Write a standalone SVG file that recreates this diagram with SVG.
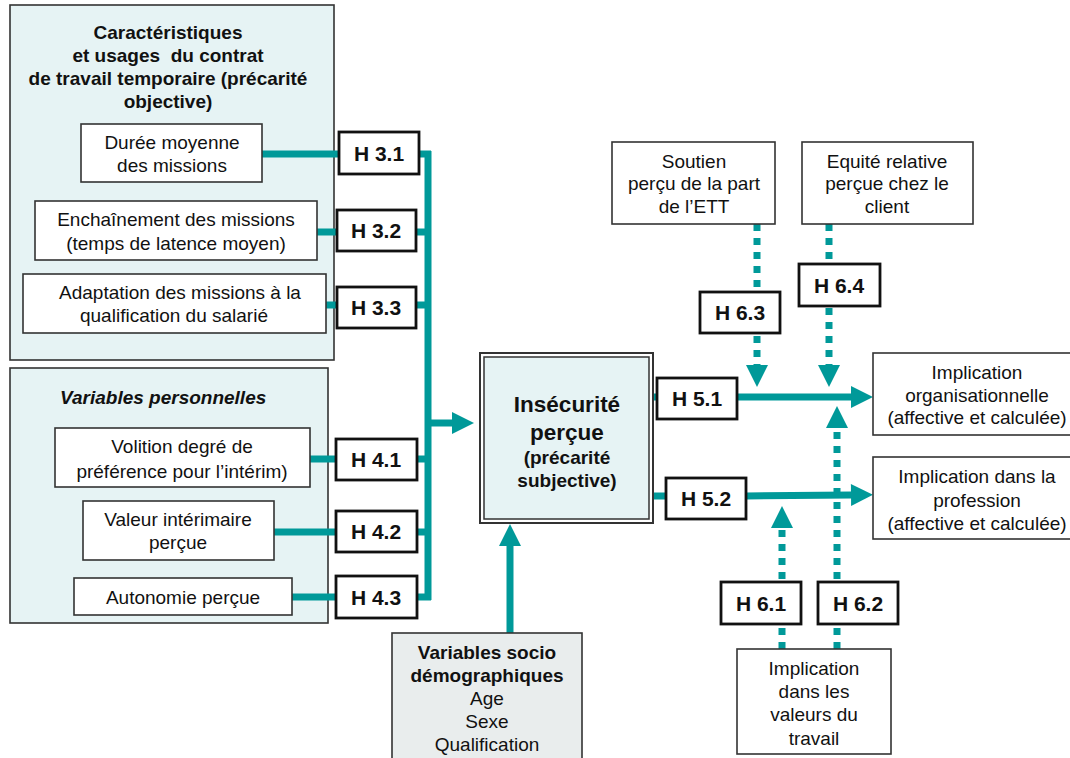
<svg xmlns="http://www.w3.org/2000/svg" width="1070" height="758" viewBox="0 0 1070 758">
<style>
text{font-family:"Liberation Sans",Arial,sans-serif;fill:#111;text-anchor:middle}
.t{font-size:19px}
.b{font-size:19px;font-weight:bold}
.h{font-size:21px;font-weight:bold}
.big{font-size:22.5px;font-weight:bold}
.grp{fill:#e6f3f4;stroke:#333;stroke-width:1.6}
.box{fill:#fff;stroke:#333;stroke-width:1.6}
.hb{fill:#fff;stroke:#111;stroke-width:2.8}
.ln{stroke:#009999;stroke-width:7;fill:none}
.dl{stroke:#009999;stroke-width:7;fill:none;stroke-dasharray:7 7}
</style>
<defs>
<marker id="ah" markerUnits="userSpaceOnUse" markerWidth="23" markerHeight="22" refX="0" refY="11" orient="auto" overflow="visible">
<path d="M0,0 L22,11 L0,22 z" fill="#009999"/>
</marker>
</defs>

<g id="grp-caracteristiques">
<rect class="grp" x="10" y="5" width="324" height="355"/>
<text class="b" x="168" y="39">Caractéristiques</text>
<text class="b" x="168" y="62" xml:space="preserve">et usages  du contrat</text>
<text class="b" x="168" y="85">de travail temporaire (précarité</text>
<text class="b" x="168" y="108">objective)</text>
</g>
<g id="grp-personnelles">
<rect class="grp" x="10" y="368" width="318" height="255"/>
<text class="b" x="60" y="404" style="text-anchor:start;font-style:italic">Variables personnelles</text>
</g>

<g id="connectors">
<line class="ln" x1="262" y1="154" x2="339" y2="154"/>
<line class="ln" x1="317" y1="232" x2="337" y2="232"/>
<line class="ln" x1="326" y1="305" x2="337" y2="305"/>
<line class="ln" x1="310" y1="459" x2="336" y2="459"/>
<line class="ln" x1="274" y1="532" x2="336" y2="532"/>
<line class="ln" x1="292" y1="597" x2="336" y2="597"/>
<line class="ln" x1="419" y1="154" x2="431" y2="154"/>
<line class="ln" x1="416" y1="232" x2="428" y2="232"/>
<line class="ln" x1="416" y1="305" x2="428" y2="305"/>
<line class="ln" x1="417" y1="459" x2="428" y2="459"/>
<line class="ln" x1="417" y1="532" x2="428" y2="532"/>
<line class="ln" x1="417" y1="597" x2="431" y2="597"/>
<line class="ln" x1="428" y1="151" x2="428" y2="600"/>
<line class="ln" x1="428" y1="423" x2="452" y2="423" marker-end="url(#ah)"/>
<line class="ln" x1="510" y1="633" x2="510" y2="546" marker-end="url(#ah)"/>
<line class="ln" x1="653" y1="397" x2="657" y2="397"/>
<line class="ln" x1="737" y1="397" x2="851" y2="397" marker-end="url(#ah)"/>
<line class="ln" x1="653" y1="496" x2="666" y2="496"/>
<line class="ln" x1="746" y1="496" x2="851" y2="495" marker-end="url(#ah)"/>
<line class="dl" x1="757" y1="224" x2="757" y2="365" marker-end="url(#ah)"/>
<line class="dl" x1="829" y1="224" x2="829" y2="365" marker-end="url(#ah)"/>
<line class="dl" x1="782" y1="649" x2="782" y2="528" marker-end="url(#ah)"/>
<line class="dl" x1="837" y1="649" x2="837" y2="428" marker-end="url(#ah)"/>
</g>

<g id="n-duree">
<rect class="box" x="81" y="124" width="181" height="58"/>
<text class="t" x="172" y="149">Durée moyenne</text>
<text class="t" x="172" y="172">des missions</text>
</g>
<g id="n-enchainement">
<rect class="box" x="35" y="201" width="282" height="59"/>
<text class="t" x="176" y="226">Enchaînement des missions</text>
<text class="t" x="176" y="250">(temps de latence moyen)</text>
</g>
<g id="n-adaptation">
<rect class="box" x="23" y="274" width="303" height="59"/>
<text class="t" x="180" y="299">Adaptation des missions à la</text>
<text class="t" x="174" y="322">qualification du salarié</text>
</g>
<g id="n-volition">
<rect class="box" x="55" y="428" width="255" height="59"/>
<text class="t" x="182" y="453">Volition degré de</text>
<text class="t" x="182" y="478">préférence pour l’intérim)</text>
</g>
<g id="n-valeur">
<rect class="box" x="83" y="501" width="191" height="59"/>
<text class="t" x="178" y="526">Valeur intérimaire</text>
<text class="t" x="178" y="549">perçue</text>
</g>
<g id="n-autonomie">
<rect class="box" x="74" y="578" width="218" height="37"/>
<text class="t" x="183" y="604">Autonomie perçue</text>
</g>

<g id="h31"><rect class="hb" x="339" y="132" width="80" height="42"/><text class="h" x="379" y="161">H 3.1</text></g>
<g id="h32"><rect class="hb" x="337" y="210" width="79" height="41"/><text class="h" x="376" y="238">H 3.2</text></g>
<g id="h33"><rect class="hb" x="337" y="287" width="79" height="41"/><text class="h" x="376" y="315">H 3.3</text></g>
<g id="h41"><rect class="hb" x="336" y="439" width="81" height="41"/><text class="h" x="376" y="467">H 4.1</text></g>
<g id="h42"><rect class="hb" x="336" y="511" width="81" height="41"/><text class="h" x="376" y="539">H 4.2</text></g>
<g id="h43"><rect class="hb" x="336" y="576" width="81" height="42"/><text class="h" x="376" y="605">H 4.3</text></g>

<g id="n-insecurite">
<rect x="480" y="353" width="173" height="170" fill="#fff" stroke="#333" stroke-width="2"/>
<rect x="484" y="357" width="165" height="162" fill="#e6f3f4" stroke="#333" stroke-width="1.5"/>
<text class="big" x="567" y="412">Insécurité</text>
<text class="big" x="567" y="440">perçue</text>
<text class="b" x="567" y="464">(précarité</text>
<text class="b" x="567" y="487">subjective)</text>
</g>

<g id="n-socio">
<rect x="392" y="633" width="190" height="130" fill="#e9eded" stroke="#333" stroke-width="1.6"/>
<text class="b" x="487" y="659">Variables socio</text>
<text class="b" x="487" y="682">démographiques</text>
<text class="t" x="487" y="705">Age</text>
<text class="t" x="487" y="728">Sexe</text>
<text class="t" x="487" y="751">Qualification</text>
</g>

<g id="h51"><rect class="hb" x="657" y="378" width="80" height="41"/><text class="h" x="697" y="406">H 5.1</text></g>
<g id="h52"><rect class="hb" x="666" y="478" width="80" height="41"/><text class="h" x="706" y="506">H 5.2</text></g>

<g id="n-soutien">
<rect class="box" x="612" y="142" width="163" height="82"/>
<text class="t" x="694" y="168">Soutien</text>
<text class="t" x="694" y="190">perçu de la part</text>
<text class="t" x="694" y="213">de l’ETT</text>
</g>
<g id="n-equite">
<rect class="box" x="802" y="142" width="171" height="82"/>
<text class="t" x="887" y="168">Equité relative</text>
<text class="t" x="887" y="190">perçue chez le</text>
<text class="t" x="887" y="213">client</text>
</g>
<g id="h63"><rect class="hb" x="700" y="292" width="80" height="41"/><text class="h" x="740" y="320">H 6.3</text></g>
<g id="h64"><rect class="hb" x="799" y="264" width="81" height="42"/><text class="h" x="839" y="293">H 6.4</text></g>

<g id="n-impl-org">
<rect class="box" x="873" y="353" width="208" height="82"/>
<text class="t" x="977" y="379">Implication</text>
<text class="t" x="977" y="402">organisationnelle</text>
<text class="t" x="977" y="424">(affective et calculée)</text>
</g>
<g id="n-impl-prof">
<rect class="box" x="873" y="457" width="208" height="82"/>
<text class="t" x="977" y="483">Implication dans la</text>
<text class="t" x="977" y="507">profession</text>
<text class="t" x="977" y="530">(affective et calculée)</text>
</g>

<g id="h61"><rect class="hb" x="721" y="582" width="80" height="42"/><text class="h" x="761" y="611">H 6.1</text></g>
<g id="h62"><rect class="hb" x="818" y="582" width="80" height="42"/><text class="h" x="858" y="611">H 6.2</text></g>

<g id="n-impl-valeurs">
<rect class="box" x="737" y="649" width="154" height="105"/>
<text class="t" x="814" y="675">Implication</text>
<text class="t" x="814" y="698">dans les</text>
<text class="t" x="814" y="721">valeurs du</text>
<text class="t" x="814" y="745">travail</text>
</g>
</svg>
